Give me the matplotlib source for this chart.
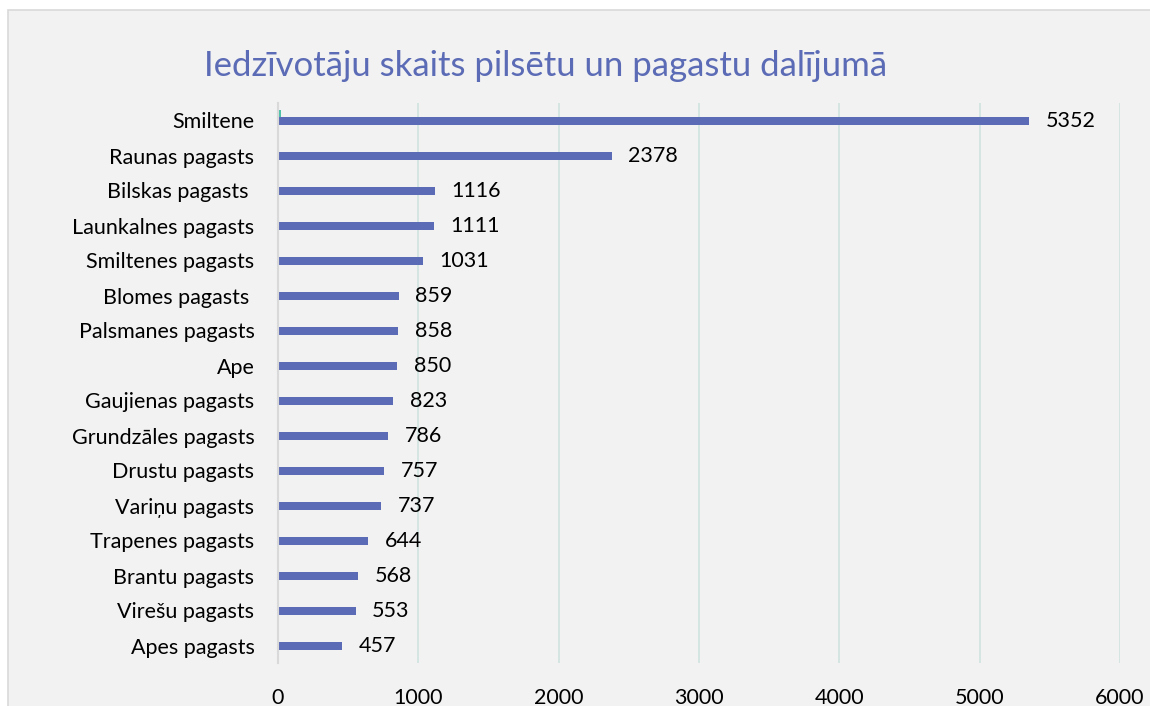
import matplotlib
matplotlib.use("Agg")
import matplotlib.pyplot as plt
from matplotlib.patches import Rectangle
import numpy as np

categories = ["Smiltene", "Raunas pagasts", "Bilskas pagasts ", "Launkalnes pagasts",
              "Smiltenes pagasts", "Blomes pagasts ", "Palsmanes pagasts", "Ape",
              "Gaujienas pagasts", "Grundzāles pagasts", "Drustu pagasts", "Variņu pagasts",
              "Trapenes pagasts", "Brantu pagasts", "Virešu pagasts", "Apes pagasts"]
population = [5352, 2378, 1116, 1111, 1031, 859, 858, 850, 823, 786, 757, 737, 644, 568, 553, 457]
second_series = [22, 6, 0, 0, 0, 0, 0, 0, 0, 0, 0, 0, 0, 0, 0, 0]
xticks = [0, 1000, 2000, 3000, 4000, 5000, 6000]
title = "Iedzīvotāju skaits pilsētu un pagastu dalījumā"

plt.rcParams['font.family'] = ['Lato', 'DejaVu Sans']

W, H = 1150, 706
fig = plt.figure(figsize=(W/100, H/100), dpi=100)
fig.patch.set_facecolor('white')

# chart panel (background axes)
bg = fig.add_axes([0, 0, 1, 1], zorder=-10)
bg.set_xlim(0, W)
bg.set_ylim(H, 0)
bg.axis('off')
bg.add_patch(Rectangle((8, 10), W + 20, H + 20, facecolor='#f2f2f2',
                       edgecolor='#d9d9d9', linewidth=1.2))

ax = fig.add_axes([278/W, 1 - 663/H, (1120-278)/W, (663-103)/H])
ax.set_facecolor('none')

y = np.arange(len(categories))
blue = '#5b6bb5'
teal = '#4fc1a6'
ax.barh(y + 0.02, population, height=0.23, color=blue, zorder=3)
ax.barh(y - 0.2, second_series, height=0.2, color=teal, zorder=3)

fs = 15.5
ax.set_ylim(len(categories) - 0.5, -0.5)
ax.set_xlim(0, 6000)
ax.set_xticks(xticks)
ax.set_xticklabels([str(t) for t in xticks], fontsize=fs)
ax.set_yticks(y)
ax.set_yticklabels(categories, fontsize=fs)
ax.tick_params(axis='both', length=0, colors='black')
ax.tick_params(axis='x', pad=18)
ax.tick_params(axis='y', pad=17)

ax.grid(axis='x', color='#cfe3df', linewidth=1.2, zorder=0)
for s in ['top', 'right', 'bottom']:
    ax.spines[s].set_visible(False)
ax.spines['left'].set_color('#d9d9d9')
ax.spines['left'].set_linewidth(1.5)
ax.spines['left'].set_zorder(4)

for yi, v in zip(y, population):
    ax.annotate(str(v), (v, yi + 0.02), xytext=(12, 0), textcoords='offset points',
                va='center', ha='left', fontsize=fs, color='black')

fig.text(546/W, 1 - 66/H, title, ha='center', va='center', fontsize=25, color='#5b6bb5')

fig.savefig('out.png', dpi=100)
